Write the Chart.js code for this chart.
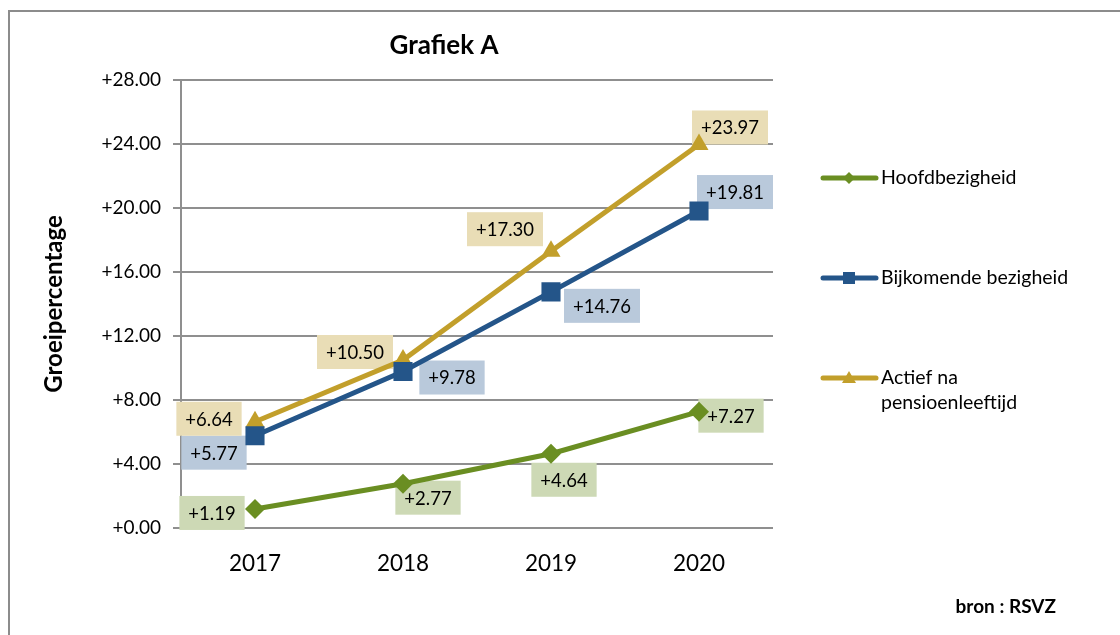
<!DOCTYPE html>
<html>
<head>
<meta charset="utf-8">
<script src="https://cdn.jsdelivr.net/npm/chart.js@4.4.1/dist/chart.umd.min.js"></script>
<style>
  html, body { margin: 0; padding: 0; background: #fff; }
  #wrap { width: 1120px; height: 635px; position: relative; }
</style>
</head>
<body>
<div id="wrap"><canvas id="chart_grafiekA"></canvas></div>
<script>
// data
var years = ['2017', '2018', '2019', '2020'];
var hoofdbezigheid = [1.19, 2.77, 4.64, 7.27];
var bijkomendeBezigheid = [5.77, 9.78, 14.76, 19.81];
var actiefNaPensioen = [6.64, 10.50, 17.30, 23.97];
var yTicks = [0, 4, 8, 12, 16, 20, 24, 28];

// label box offsets from each point (px), per series
var labelShift = [
    [[-43, 4], [25, 14], [13, 26], [32, 4]],
    [[-41, 17], [49, 6], [51, 14], [36, -19]],
    [[-46, -3], [-48, -8], [-46, -22], [31, -17]]
];
var labelFill = ['#cdd9b5', '#b9c9db', '#e9ddb6'];
var legendRows = [178, 278, 378];

var FONT = 'Lato, "Open Sans", sans-serif';

var decorPlugin = {
    id: 'decor',
    beforeDraw: (chart) => {
        const ctx = chart.ctx;
        ctx.save();
        ctx.fillStyle = '#fff';
        ctx.fillRect(0, 0, chart.width, chart.height);
        ctx.strokeStyle = '#8c8c8c';
        ctx.lineWidth = 2;
        ctx.beginPath();
        ctx.moveTo(9, chart.height);
        ctx.lineTo(9, 11);
        ctx.lineTo(chart.width, 11);
        ctx.stroke();
        ctx.restore();
    },
    beforeDatasetsDraw: (chart) => {
        const ctx = chart.ctx;
        ctx.save();
        ctx.font = '18.5px ' + FONT;
        ctx.textAlign = 'center';
        ctx.textBaseline = 'middle';
        chart.data.datasets.forEach((ds, i) => {
            const meta = chart.getDatasetMeta(i);
            meta.data.forEach((pt, j) => {
                const txt = '+' + ds.data[j].toFixed(2);
                const w = ctx.measureText(txt).width + 18;
                const h = 34;
                const cx = pt.x + labelShift[i][j][0];
                const cy = pt.y + labelShift[i][j][1];
                ctx.fillStyle = labelFill[i];
                ctx.fillRect(cx - w / 2, cy - h / 2, w, h);
                ctx.fillStyle = '#000';
                ctx.fillText(txt, cx, cy + 1);
            });
        });
        ctx.restore();
    },
    afterDraw: (chart) => {
        const ctx = chart.ctx;
        ctx.save();
        ctx.fillStyle = '#000';
        ctx.textBaseline = 'middle';
        // title
        ctx.textAlign = 'center';
        ctx.font = 'bold 26px ' + FONT;
        ctx.fillText('Grafiek A', 444, 46);
        // source
        ctx.textAlign = 'right';
        ctx.font = 'bold 19px ' + FONT;
        ctx.fillText('bron : RSVZ', 1056, 607);
        // legend
        ctx.textAlign = 'left';
        ctx.font = '19.5px ' + FONT;
        chart.data.datasets.forEach((ds, i) => {
            const y = legendRows[i];
            ctx.strokeStyle = ds.borderColor;
            ctx.lineWidth = 5;
            ctx.lineCap = 'round';
            ctx.beginPath();
            ctx.moveTo(823, y);
            ctx.lineTo(876, y);
            ctx.stroke();
            ctx.fillStyle = ds.borderColor;
            ctx.beginPath();
            if (ds.pointStyle === 'rectRot') {
                ctx.moveTo(849, y - 6); ctx.lineTo(855, y); ctx.lineTo(849, y + 6); ctx.lineTo(843, y);
            } else if (ds.pointStyle === 'rect') {
                ctx.rect(843, y - 6, 12, 12);
            } else {
                ctx.moveTo(849, y - 7); ctx.lineTo(856, y + 5); ctx.lineTo(842, y + 5);
            }
            ctx.closePath();
            ctx.fill();
            // wrap label text
            ctx.fillStyle = '#000';
            const words = ds.label.split(' ');
            const lines = [];
            let cur = '';
            words.forEach((wd) => {
                const test = cur ? cur + ' ' + wd : wd;
                if (ctx.measureText(test).width > 210 && cur) {
                    lines.push(cur);
                    cur = wd;
                } else {
                    cur = test;
                }
            });
            lines.push(cur);
            lines.forEach((ln, k) => ctx.fillText(ln, 881, y + k * 25));
        });
        ctx.restore();
    }
};

var chart_grafiekA = new Chart(document.getElementById('chart_grafiekA'), {
    type: 'line',
    data: {
        labels: years,
        datasets: [
            {
                label: 'Hoofdbezigheid',
                data: hoofdbezigheid,
                borderColor: '#6a8e22',
                backgroundColor: '#6a8e22',
                borderWidth: 5,
                pointStyle: 'rectRot',
                pointRadius: 10,
                pointBorderWidth: 0
            },
            {
                label: 'Bijkomende bezigheid',
                data: bijkomendeBezigheid,
                borderColor: '#245589',
                backgroundColor: '#245589',
                borderWidth: 5,
                pointStyle: 'rect',
                pointRadius: 13.5,
                pointBorderWidth: 0
            },
            {
                label: 'Actief na pensioenleeftijd',
                data: actiefNaPensioen,
                borderColor: '#c29f2b',
                backgroundColor: '#c29f2b',
                borderWidth: 5,
                pointStyle: 'triangle',
                pointRadius: 11,
                pointBorderWidth: 0
            }
        ]
    },
    options: {
        animation: false,
        responsive: true,
        maintainAspectRatio: false,
        events: [],
        layout: {
            padding: { left: 0, right: 347, top: 80, bottom: 0 }
        },
        plugins: {
            legend: { display: false },
            title: { display: false },
            tooltip: { enabled: false }
        },
        scales: {
            x: {
                type: 'category',
                offset: true,
                grid: { display: false, drawTicks: false },
                border: { display: false },
                ticks: {
                    color: '#000',
                    padding: 22,
                    font: { family: FONT, size: 22.5 }
                },
                afterFit: (scale) => { scale.height = 107; }
            },
            y: {
                min: 0,
                max: 28,
                afterBuildTicks: (scale) => {
                    scale.ticks = yTicks.map((v) => ({ value: v }));
                },
                grid: {
                    color: '#8f8f8f',
                    lineWidth: 2,
                    tickLength: 8
                },
                border: { display: true, color: '#8f8f8f', width: 2 },
                ticks: {
                    color: '#000',
                    padding: 12,
                    font: { family: FONT, size: 19 },
                    callback: (v) => '+' + Number(v).toFixed(2)
                },
                title: {
                    display: true,
                    text: 'Groeipercentage',
                    color: '#000',
                    font: { family: FONT, size: 24, weight: 'bold' },
                    padding: { top: 40, bottom: 0 }
                },
                afterFit: (scale) => { scale.width = 181; }
            }
        }
    },
    plugins: [decorPlugin]
});
</script>
</body>
</html>
